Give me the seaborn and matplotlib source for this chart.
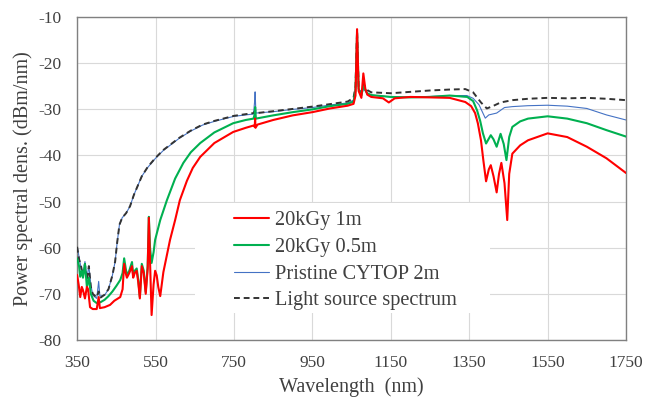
import matplotlib
matplotlib.use("Agg")
import matplotlib.pyplot as plt
from matplotlib.patches import Rectangle
import seaborn as sns

# 20kGy 1m (red)
red_wl = [350, 354, 358, 362, 365, 370, 375, 378, 383, 390, 400, 405, 408, 420, 434, 445, 460, 466,
          470, 474, 477, 483, 490, 493, 497, 502, 506, 510, 515, 520, 525, 530, 533, 536, 540, 545,
          549, 553, 557, 562, 570, 587, 600, 612, 630, 645, 664, 700, 748, 780, 800, 803, 804, 805,
          810, 850, 900, 950, 995, 1040, 1055, 1060, 1064, 1068, 1075, 1080, 1085, 1090, 1100, 1130,
          1145, 1160, 1200, 1250, 1300, 1340, 1355, 1365, 1372, 1380, 1386, 1393, 1400, 1405, 1412,
          1420, 1426, 1432, 1440, 1447, 1452, 1460, 1480, 1500, 1550, 1600, 1650, 1700, 1750]
red_db = [-65.9, -68, -70.7, -68.5, -69.2, -71, -68.5, -69, -72.9, -73.3, -73.3, -70.7, -73.1, -72.9,
          -72.4, -71.5, -70.7, -69, -63.5, -65.5, -66.5, -65.5, -64, -66.5, -65.5, -65, -67.5, -71,
          -64, -65.5, -70, -64.5, -53.5, -63, -74.6, -68, -65, -66, -68.5, -70.5, -65.3, -58.3, -54,
          -49.7, -45.5, -42.7, -40.3, -37.3, -34.9, -34, -33.5, -33.8, -32, -34, -33.3, -32.3, -31.3,
          -30.6, -29.8, -29.2, -28.8, -27, -12.6, -26, -27.5, -22.2, -25.5, -26.8, -27.3, -27.6,
          -28.5, -27.6, -27.3, -27.4, -27.5, -28.4, -29.3, -30.8, -33, -36.7, -41, -45.6, -43, -42.1,
          -44.5, -48, -44, -41.6, -46, -54, -44, -39.6, -37.8, -36.7, -35.2, -36, -38.1, -40.6, -43.8]

# 20kGy 0.5m (green)
green_wl = [350, 355, 358, 362, 365, 370, 375, 380, 385, 392, 400, 410, 420, 430, 440, 450, 460, 466,
            470, 474, 477, 483, 490, 493, 497, 502, 506, 510, 515, 520, 525, 530, 533, 536, 540, 545,
            549, 562, 579, 600, 621, 640, 664, 700, 748, 780, 800, 803, 804, 806, 850, 900, 950, 995,
            1040, 1055, 1060, 1064, 1068, 1075, 1080, 1090, 1100, 1150, 1200, 1250, 1300, 1345, 1360,
            1370, 1378, 1385, 1393, 1405, 1412, 1420, 1430, 1438, 1445, 1452, 1460, 1480, 1500, 1550,
            1600, 1650, 1700, 1750]
green_db = [-62.3, -64, -66.3, -65, -66.5, -63.5, -68.5, -66.5, -70, -71.5, -72, -71.8, -71.3, -70.5,
            -69.5, -68.3, -67, -65.5, -62.3, -64.5, -66, -65, -63.1, -66, -65, -64.5, -67, -70.7,
            -63.5, -65, -69.6, -64, -53.3, -60, -63.3, -61, -58.3, -54, -49.7, -45, -41.6, -39.3,
            -37.3, -35, -33, -32.3, -32, -31, -29.5, -32, -31.3, -30.6, -30, -29.3, -28.8, -28.3, -26,
            -13.5, -25.5, -27, -25, -26.5, -26.9, -27.3, -27.4, -27.3, -27, -27.3, -28.2, -30.2, -32.5,
            -35.2, -37.4, -35.6, -36.5, -38.1, -35.3, -37.5, -41, -36, -33.8, -32.6, -32, -31.5, -32,
            -33, -34.5, -35.9]

# Pristine CYTOP 2m (blue)
blue_wl = [350, 355, 360, 365, 370, 375, 380, 385, 390, 400, 405, 408, 420, 430, 440, 447, 452, 458,
           465, 475, 485, 495, 505, 515, 530, 550, 570, 590, 610, 640, 670, 700, 750, 800, 803, 804,
           806, 850, 900, 950, 1000, 1040, 1055, 1060, 1064, 1068, 1075, 1080, 1090, 1100, 1150, 1200,
           1250, 1300, 1344, 1360, 1375, 1391, 1400, 1420, 1440, 1460, 1500, 1550, 1600, 1650, 1700,
           1750]
blue_db = [-59.7, -62, -64.5, -66, -63, -66.5, -64, -68, -70.3, -71, -67.3, -70.5, -70.3, -69, -66,
           -63, -59, -55, -53.5, -52.5, -51, -48.5, -46.5, -44.5, -42.6, -40.6, -38.9, -37.6, -36.3,
           -34.7, -33.4, -32.6, -31.5, -31, -28, -26.2, -30.8, -30.5, -30, -29.6, -29, -28.6, -28, -25,
           -13.5, -25.5, -27, -25.5, -26.6, -26.9, -27.3, -27.3, -27.2, -27, -27, -27.6, -29, -31.9,
           -31.2, -30.8, -29.6, -29.4, -29.2, -29.1, -29.3, -29.8, -31.2, -32.3]

# Light source spectrum (black dashed)
src_wl = [350, 355, 360, 365, 370, 375, 380, 385, 390, 400, 405, 410, 420, 430, 440, 447, 452, 458,
          465, 475, 485, 495, 505, 515, 530, 550, 570, 590, 610, 640, 670, 700, 750, 800, 804, 808,
          850, 900, 950, 1000, 1040, 1055, 1060, 1064, 1068, 1075, 1080, 1090, 1100, 1150, 1200, 1250,
          1300, 1340, 1360, 1380, 1395, 1410, 1430, 1460, 1500, 1550, 1600, 1650, 1700, 1750]
src_db = [-59.8, -62.5, -64, -66, -63.5, -67, -64, -68.5, -70, -70.8, -69.5, -70.8, -70.2, -69, -66,
          -63, -59, -55, -53.5, -52.5, -51, -48.5, -46.5, -44.5, -42.5, -40.5, -38.8, -37.5, -36.2,
          -34.6, -33.3, -32.5, -31.4, -30.8, -30.3, -30.8, -30.4, -29.9, -29.4, -28.8, -28.3, -27.5,
          -25, -13, -25, -26.5, -24.5, -25.8, -26.3, -26.5, -26.2, -25.9, -25.7, -25.6, -26.3, -28.5,
          -29.8, -29.3, -28.5, -28, -27.7, -27.5, -27.6, -27.5, -27.7, -28]

x_ticks = [350, 550, 750, 950, 1150, 1350, 1550, 1750]
y_ticks = [-80, -70, -60, -50, -40, -30, -20, -10]

sns.set_style("whitegrid")
plt.rcParams['font.family'] = ['Liberation Serif', 'DejaVu Serif']
plt.rcParams['axes.unicode_minus'] = False

fig, ax = plt.subplots(figsize=(6.59, 3.99), dpi=100)
fig.subplots_adjust(left=0.117, right=0.950, top=0.957, bottom=0.148)

sns.lineplot(x=blue_wl, y=blue_db, ax=ax, color='#4472C4', linewidth=0.8,
             label='Pristine CYTOP 2m', zorder=2)
sns.lineplot(x=src_wl, y=src_db, ax=ax, color='#333333', linewidth=1.4,
             linestyle=(0, (3, 2)), label='Light source spectrum', zorder=3)
sns.lineplot(x=green_wl, y=green_db, ax=ax, color='#00B050', linewidth=1.5,
             label='20kGy 0.5m', zorder=4)
sns.lineplot(x=red_wl, y=red_db, ax=ax, color='#FF0000', linewidth=1.5,
             label='20kGy 1m', zorder=5)

ax.set_xlim(350, 1750)
ax.set_ylim(-80, -10)
ax.set_xticks(x_ticks)
ax.set_yticks(y_ticks)
ax.grid(True, color='#D9D9D9', linewidth=0.8)
for s in ax.spines.values():
    s.set_color('#808080')
    s.set_linewidth(1.0)
ax.tick_params(axis='both', labelsize=12.5, colors='#404040', length=0)
ax.tick_params(axis='y', pad=11)
ax.tick_params(axis='x', direction='in', length=4, color='#808080', pad=11)

ax.set_xlabel('Wavelength  (nm)', fontsize=14.5, color='#404040', labelpad=4)
ax.set_ylabel('Power spectral dens. (dBm/nm)', fontsize=14.5, color='#404040', labelpad=4)

# white area behind the legend that hides the gridlines
ax.add_patch(Rectangle((195 / 659, 1 - 313 / 399), 295 / 659, 110 / 399,
                       transform=fig.transFigure, facecolor='white',
                       edgecolor='none', zorder=1))

handles, labels = ax.get_legend_handles_labels()
order = [3, 2, 0, 1]
leg = ax.legend([handles[i] for i in order], [labels[i] for i in order],
                loc='upper left', bbox_to_anchor=(226 / 659, 1 - 203 / 399),
                bbox_transform=fig.transFigure, fontsize=14.7, frameon=False,
                handlelength=1.7, handletextpad=0.3, labelspacing=0.36, borderaxespad=0)
for t in leg.get_texts():
    t.set_color('#404040')

plt.savefig('out.png', dpi=100)
